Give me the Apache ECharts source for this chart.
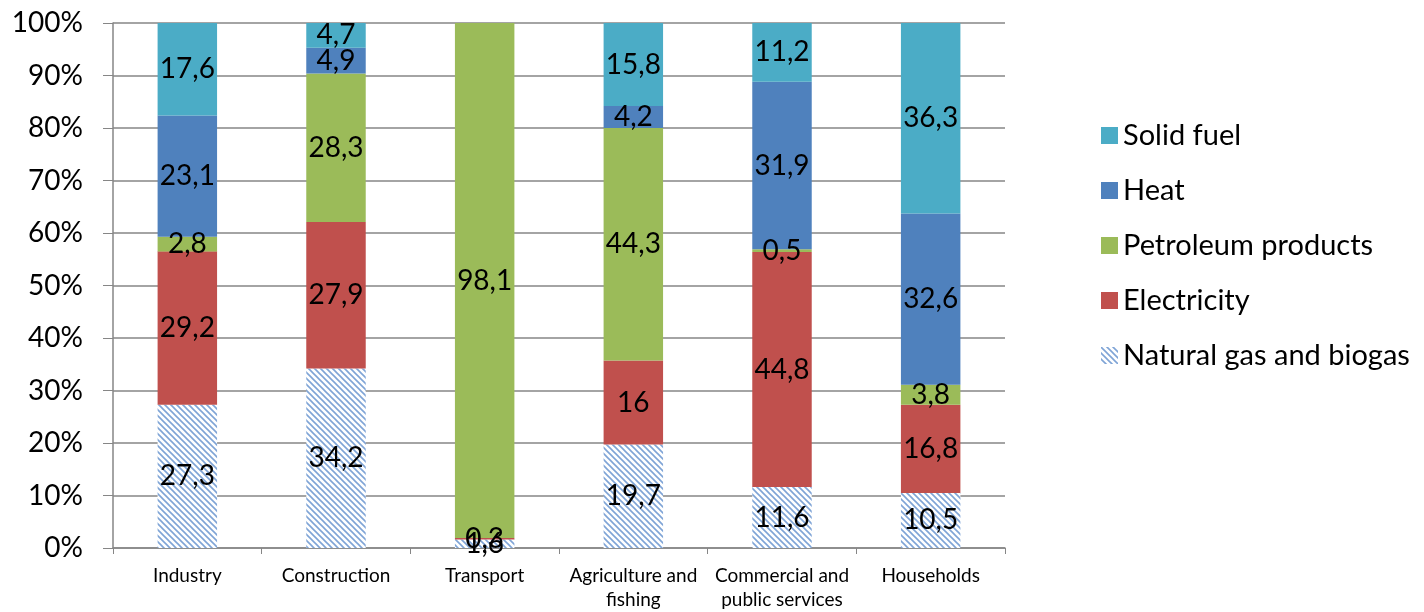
<!DOCTYPE html>
<html>
<head>
<meta charset="utf-8">
<script src="https://cdn.jsdelivr.net/npm/echarts@6/dist/echarts.min.js"></script>
<style>
html,body{margin:0;padding:0;background:#fff;}
#main{width:1424px;height:612px;}
</style>
</head>
<body>
<div id="main"></div>
<script>
var categories = ['Industry', 'Construction', 'Transport', 'Agriculture and\nfishing', 'Commercial and\npublic services', 'Households'];
var naturalGas = [27.3, 34.2, 1.6, 19.7, 11.6, 10.5];
var electricity = [29.2, 27.9, 0.3, 16, 44.8, 16.8];
var petroleum = [2.8, 28.3, 98.1, 44.3, 0.5, 3.8];
var heat = [23.1, 4.9, 0, 4.2, 31.9, 32.6];
var solidFuel = [17.6, 4.7, 0, 15.8, 11.2, 36.3];
var yTicks = [0, 10, 20, 30, 40, 50, 60, 70, 80, 90, 100];

function hatch() {
  var c = document.createElement('canvas');
  c.width = 6; c.height = 6;
  var g = c.getContext('2d');
  g.fillStyle = '#ffffff';
  g.fillRect(0, 0, 6, 6);
  g.strokeStyle = '#7fa4d6';
  g.lineWidth = 1.6;
  g.beginPath();
  g.moveTo(-1, -1); g.lineTo(7, 7);
  g.moveTo(-4, 2); g.lineTo(1, 7);
  g.moveTo(5, -1); g.lineTo(8, 2);
  g.stroke();
  return c;
}

var FONT = 'Lato, "Open Sans", sans-serif';
function lbl(p) {
  if (!p.value) return '';
  return String(p.value).replace('.', ',');
}
function mk(name, data, color) {
  return {
    name: name, type: 'bar', stack: 'total', data: data, barWidth: '40%',
    itemStyle: { color: color },
    label: { show: true, position: 'inside', formatter: lbl, color: '#000', fontSize: 28, fontFamily: FONT },
    emphasis: { disabled: true }
  };
}

var chart = echarts.init(document.getElementById('main'));
chart.setOption({
  animation: false,
  grid: { left: 113, right: 419, top: 23, bottom: 64 },
  legend: {
    orient: 'vertical', left: 1096, top: 116,
    itemWidth: 17, itemHeight: 17, itemGap: 26,
    icon: 'rect',
    data: ['Solid fuel', 'Heat', 'Petroleum products', 'Electricity', 'Natural gas and biogas'],
    textStyle: { fontSize: 29, fontFamily: FONT, color: '#000', padding: [0, 0, 0, 0] }
  },
  xAxis: {
    type: 'category', data: categories,
    axisLine: { lineStyle: { color: '#868686', width: 1.5 } },
    axisTick: { show: true, length: 6, lineStyle: { color: '#868686' } },
    axisLabel: { color: '#000', fontSize: 19, fontFamily: FONT, lineHeight: 24, margin: 16, interval: 0 }
  },
  yAxis: {
    type: 'value', min: 0, max: 100, interval: 10,
    axisLine: { show: true, lineStyle: { color: '#868686', width: 1.5 } },
    axisTick: { show: true, length: 10, lineStyle: { color: '#868686' } },
    splitLine: { lineStyle: { color: '#868686', width: 1.5 } },
    axisLabel: { color: '#000', fontSize: 28, fontFamily: FONT, margin: 30,
      formatter: function (v) { return yTicks.indexOf(v) >= 0 ? v + '%' : ''; } }
  },
  series: [
    mk('Natural gas and biogas', naturalGas, { image: hatch(), repeat: 'repeat' }),
    mk('Electricity', electricity, '#C0504D'),
    mk('Petroleum products', petroleum, '#9BBB59'),
    mk('Heat', heat, '#4F81BD'),
    mk('Solid fuel', solidFuel, '#4BACC6')
  ]
});
</script>
</body>
</html>
